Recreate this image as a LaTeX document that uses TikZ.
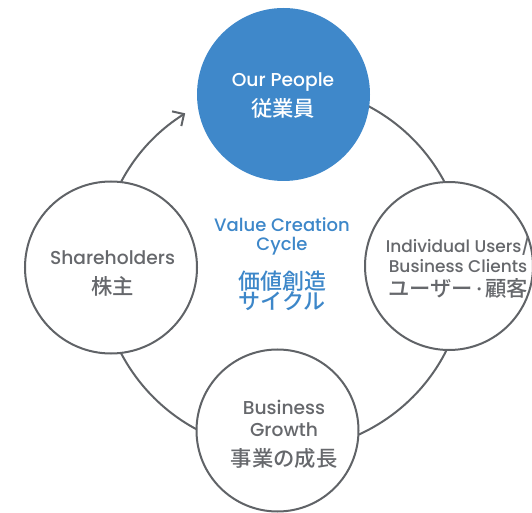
\documentclass[tikz,border=0pt]{standalone}
\usepackage{fontspec}
\setmainfont{Poppins Medium}
\newfontfamily\jpfont{Noto Sans CJK JP Medium}
\usetikzlibrary{arrows.meta}
\definecolor{ringgray}{RGB}{96,99,103}
\definecolor{textgray}{RGB}{102,104,108}
\definecolor{peopleblue}{RGB}{63,136,202}
\definecolor{cycleblue}{RGB}{61,135,201}
\setlength{\lineskiplimit}{-30pt}
\tikzset{every picture/.style={line width=0.75pt}}
\tikzset{
  ring/.style={circle,draw=ringgray,line width=1.5,fill=white,inner sep=0pt},
  ringtext/.style={anchor=north,inner sep=0pt,align=center,text=textgray,
    font=\fontsize{14}{15}\selectfont}
}
\newcommand{\jptext}[1]{{\jpfont\fontsize{16}{15}\selectfont #1}}

\begin{document}
\begin{tikzpicture}[x=0.75pt,y=0.75pt,yscale=-1,xscale=1]
\path[use as bounding box] (0,0) rectangle (532,513);

%centre of the cycle
\coordinate (hub) at (283,268);

%Cycle ring with arrow
\draw [color=ringgray,line width=1.5,{Straight Barb[length=6.5pt,width=13pt]}-] ([shift={(237.7:183)}]hub) arc [start angle=237.7,end angle=-110,radius=183] ;

%Circles
\node [circle,fill=peopleblue,inner sep=0pt,minimum size=129.75pt] (people) at (283.5,94.5) {};
\node [ring,minimum size=126pt] (users) at (449,266) {};
\node [ring,minimum size=121.5pt] (growth) at (277.5,430.5) {};
\node [ring,minimum size=129pt] (holders) at (111,267.5) {};

% Text Node
\node [ringtext,text=white] (people-label) at (283,72) {Our People\\[8pt]\jptext{従業員}};
% Text Node
\node [ringtext,font=\fontsize{12.75}{15}\selectfont] (users-label) at (458,236) {Individual Users/\\Business Clients\\[3pt]\jptext{ユーザー{\rmfamily\,·\,}顧客}};
% Text Node
\node [ringtext] (growth-label) at (284,400) {Business\\[1.5pt]Growth\\[7.5pt]\jptext{事業の成長}};
% Text Node
\node [ringtext] (holders-label) at (112.5,250) {Shareholders\\[8pt]\jptext{株主}};
% Text Node
\node [ringtext,text=cycleblue,font=\fontsize{13.5}{15}\selectfont] (cycle-label) at (282,217) {Value Creation\\[-0.75pt]Cycle\\[14.25pt]{\jpfont\fontsize{16.5}{15}\selectfont 価値創造}\\{\jpfont\fontsize{16.5}{15}\selectfont サイクル}};

\end{tikzpicture}
\end{document}
